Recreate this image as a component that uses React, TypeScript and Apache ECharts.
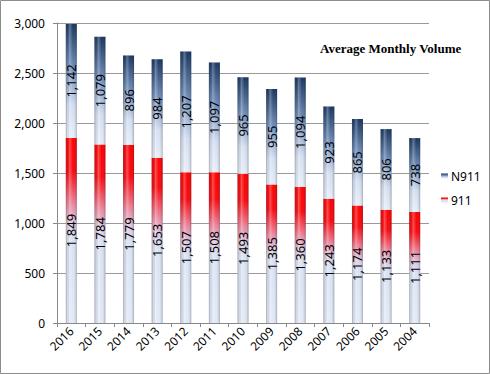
import React, { useEffect, useRef } from "react";
import * as echarts from "echarts";

const years = ["2016", "2015", "2014", "2013", "2012", "2011", "2010", "2009", "2008", "2007", "2006", "2005", "2004"];
const v911 = [1849, 1784, 1779, 1653, 1507, 1508, 1493, 1385, 1360, 1243, 1174, 1133, 1111];
const vN911 = [1142, 1079, 896, 984, 1207, 1097, 965, 955, 1094, 923, 865, 806, 738];
const yTicks = { min: 0, max: 3000, interval: 500 };
const titleText = "Average Monthly Volume";

export default function App() {
  const ref = useRef<HTMLDivElement>(null);
  useEffect(() => {
    if (!ref.current) return;
    const chart = echarts.init(ref.current, null, { renderer: "svg" });
    const totals = v911.map((v, i) => v + vN911[i]);
    const fmt = (p: any) => Number(p.value).toLocaleString("en-US");
    const lbl = {
      show: true,
      position: "inside",
      rotate: 90,
      formatter: fmt,
      color: "#000",
      fontFamily: "Noto Sans",
      fontSize: 13,
    };
    const blueGrad = new echarts.graphic.LinearGradient(0, 0, 0, 1, [
      { offset: 0, color: "#17355f" },
      { offset: 0.4, color: "#7391bd" },
      { offset: 0.72, color: "#d3def0" },
      { offset: 1, color: "#e6edf8" },
    ]);
    const redGrad = new echarts.graphic.LinearGradient(0, 0, 0, 1, [
      { offset: 0, color: "#ff0000" },
      { offset: 0.18, color: "#f80a0f" },
      { offset: 0.35, color: "#ec8096" },
      { offset: 0.46, color: "#dcc8e0" },
      { offset: 0.55, color: "#d9e2f3" },
      { offset: 1, color: "#e2e9f6" },
    ]);
    const shade = new echarts.graphic.LinearGradient(0, 0, 1, 0, [
      { offset: 0, color: "rgba(70,70,80,0.4)" },
      { offset: 0.15, color: "rgba(70,70,80,0.08)" },
      { offset: 0.35, color: "rgba(255,255,255,0.3)" },
      { offset: 0.65, color: "rgba(255,255,255,0)" },
      { offset: 0.88, color: "rgba(50,50,60,0.12)" },
      { offset: 1, color: "rgba(50,50,60,0.35)" },
    ]);
    chart.setOption({
      animation: false,
      backgroundColor: "#fff",
      title: {
        text: titleText,
        left: 315,
        top: 37,
        textStyle: { fontFamily: "Liberation Serif", fontWeight: "bold", fontSize: 13, color: "#000" },
      },
      legend: {
        data: ["N911", "911"],
        orient: "vertical",
        left: 436,
        top: 165,
        itemWidth: 7,
        itemHeight: 5,
        itemGap: 12,
        icon: "rect",
        textStyle: { fontFamily: "Noto Sans", fontSize: 12, color: "#000", padding: [0, 0, 0, -2] },
      },
      graphic: [
        {
          type: "rect",
          shape: { x: 0.5, y: 0.5, width: 489, height: 373 },
          style: { fill: "none", stroke: "#8c8c8c", lineWidth: 1 },
          z: 100,
        },
      ],
      grid: { left: 57, top: 23, right: 61, bottom: 51 },
      xAxis: {
        type: "category",
        data: years,
        axisLine: { lineStyle: { color: "#888" } },
        axisTick: { show: true, length: 4, lineStyle: { color: "#888" } },
        axisLabel: { rotate: 45, fontFamily: "Noto Sans", fontSize: 12, color: "#000", margin: 6, interval: 0 },
      },
      yAxis: {
        type: "value",
        min: yTicks.min,
        max: yTicks.max,
        interval: yTicks.interval,
        axisLine: { show: true, lineStyle: { color: "#888" } },
        axisTick: { show: true, length: 4, lineStyle: { color: "#888" } },
        axisLabel: {
          fontFamily: "Noto Sans",
          fontSize: 12,
          color: "#000",
          margin: 12,
          formatter: (v: number) => v.toLocaleString("en-US"),
        },
        splitLine: { lineStyle: { color: "#9a9a9a", width: 1 } },
      },
      series: [
        {
          name: "911",
          type: "bar",
          stack: "total",
          data: v911,
          barWidth: 11,
          barGap: "-100%",
          itemStyle: { color: redGrad },
          label: lbl,
        },
        {
          name: "N911",
          type: "bar",
          stack: "total",
          data: vN911,
          barWidth: 11,
          barGap: "-100%",
          itemStyle: { color: blueGrad },
          label: lbl,
        },
        {
          name: "shade",
          type: "bar",
          data: totals,
          barWidth: 11,
          barGap: "-100%",
          silent: true,
          itemStyle: { color: shade },
        },
      ],
    });
    return () => chart.dispose();
  }, []);
  return (
    <div
      ref={ref}
      style={{ position: "fixed", left: 0, top: 0, width: 490, height: 374 }}
    />
  );
}
